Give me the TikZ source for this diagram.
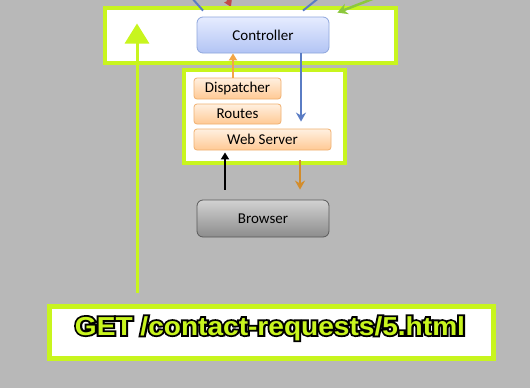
\documentclass[tikz,border=0pt]{standalone}
\usepackage{fontspec}
\setmainfont{Carlito}
\newfontfamily\reqfont{Liberation Sans}
\newfontfamily\reqhalo{Liberation Sans}[FakeBold=14]
\usetikzlibrary{arrows.meta,positioning,calc}
\definecolor{bggray}{HTML}{B8B8B8}
\definecolor{limeedge}{HTML}{C8F51E}
\definecolor{ctrltop}{HTML}{E6ECFF}
\definecolor{ctrlbot}{HTML}{B2C4F4}
\definecolor{ctrledge}{HTML}{8EA6DC}
\definecolor{comptop}{HTML}{FFF0E0}
\definecolor{compbot}{HTML}{FFC994}
\definecolor{compedge}{HTML}{F0B070}
\definecolor{browtop}{HTML}{D2D2D2}
\definecolor{browbot}{HTML}{8C8C8C}
\definecolor{browedge}{HTML}{5A5A5A}
\definecolor{flowblue}{HTML}{5A7CC4}
\definecolor{floworange}{HTML}{F3A646}
\definecolor{flowbrown}{HTML}{D38C2A}
\definecolor{flowred}{HTML}{C04A48}
\definecolor{flowgreen}{HTML}{8CC83C}

\begin{document}
\begin{tikzpicture}[x=1pt, y=-1pt, >=Stealth, thick,
  frame/.style={draw=limeedge, fill=white, line width=4pt, inner sep=0pt},
  comp/.style={rounded corners=3pt, draw=compedge, top color=comptop, bottom color=compbot, inner sep=0pt, font=\fontsize{15}{18}\selectfont},
  big/.style={rounded corners=6pt, inner sep=0pt, minimum width=132pt, font=\fontsize{15}{18}\selectfont},
  flow/.style={line width=2pt, -{Triangle[width=8pt,length=7pt]}},
  reqtext/.style={anchor=base, inner sep=0pt, xscale=1.08, font=\reqfont\bfseries\fontsize{26}{30}\selectfont}]
\useasboundingbox (0,0) rectangle (530,388);
\fill[bggray] (0,0) rectangle (530,388);

% incoming links from above
\coordinate (inred) at (224,-8);
\draw[flowred, flow] (inred) -- (231,7);

\node[frame, minimum width=291pt, minimum height=55pt] (topbox) at (250.5,35.5) {};
\node[frame, minimum width=161pt, minimum height=93pt] (midbox) at (264.5,116.5) {};
\node[frame, line width=5pt, minimum width=444pt, minimum height=52pt] (reqbox) at (271,332) {};

\node[big, draw=ctrledge, top color=ctrltop, bottom color=ctrlbot, minimum height=36pt] (ctrl) at (263,35) {Controller};
\node[comp, minimum width=87pt, minimum height=21pt] (disp) at (237.5,88.5) {Dispatcher};
\node[comp, minimum width=87pt, minimum height=20pt] (routes) at (237.5,114) {Routes};
\node[comp, minimum width=137pt, minimum height=21pt] (websrv) at (262.5,139.5) {Web Server};
\node[big, draw=browedge, top color=browtop, bottom color=browbot, minimum height=37pt] (browser) at (263,218.5) {Browser};

\coordinate (inleft) at (191,-3);
\coordinate (inright) at (320,-3);
\draw[flowblue, line width=2pt] (inleft) -- ([xshift=-60pt,yshift=6pt]ctrl.north);
\draw[flowblue, line width=2pt] (inright) -- ([xshift=40pt,yshift=6pt]ctrl.north);

% request path through the stack
\draw[floworange, flow] ([xshift=-4.5pt]disp.north) -- ([xshift=-30pt]ctrl.south);
\draw[flowblue, line width=2pt, -{Stealth[width=10pt,length=9pt]}, shorten >=7pt] ([xshift=38pt]ctrl.south) -- ([xshift=38.5pt]websrv.north);
\draw[black, flow, shorten <=10pt, shorten >=2pt] ([xshift=-38pt]browser.north) -- ([xshift=-37.5pt]websrv.south);
\draw[flowbrown, line width=2pt, -{Stealth[width=10pt,length=9pt]}, shorten <=10pt, shorten >=10pt] ([xshift=37.5pt]websrv.south) -- ([xshift=37pt]browser.north);

\coordinate (ingreen) at (375,-2);
\draw[flowgreen, line width=2.5pt, -{Stealth[width=11pt,length=10pt]}] (ingreen) -- ([xshift=8pt,yshift=4pt]ctrl.north east);

\coordinate (reqstart) at (137,293);
\draw[limeedge, line width=3pt, -{Triangle[width=24pt,length=20pt]}] (reqstart) -- ([yshift=-17.5pt]topbox.north -| reqstart);

% black halo under the lime request line
\node[reqtext, text=black, font=\reqhalo\bfseries\fontsize{26}{30}\selectfont] (reqhalo) at (270,335) {GET /contact-requests/5.html};
\node[reqtext, text=limeedge] (req) at (reqhalo.base) {GET /contact-requests/5.html};
\end{tikzpicture}
\end{document}
